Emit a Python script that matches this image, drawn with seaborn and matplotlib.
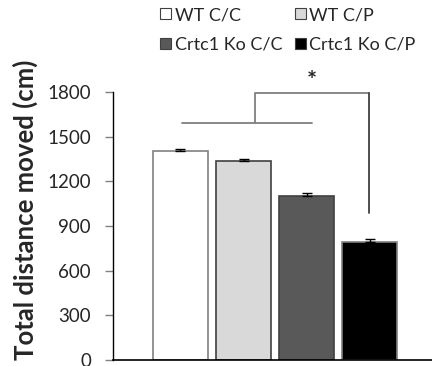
import matplotlib
matplotlib.use("Agg")
import matplotlib.pyplot as plt
import seaborn as sns
import pandas as pd
from matplotlib.patches import Patch

groups = ["WT C/C", "WT C/P", "Crtc1 Ko C/C", "Crtc1 Ko C/P"]
means = [1404, 1338, 1101, 792]
sems = [15, 12, 20, 20]
colors = ["#ffffff", "#d9d9d9", "#595959", "#000000"]
edges = ["#808080", "#404040", "#404040", "#808080"]
yticks = [0, 300, 600, 900, 1200, 1500, 1800]

sns.set_style("white")
plt.rcParams["font.family"] = ["Lato", "DejaVu Sans"]

df = pd.DataFrame({"group": groups, "value": means})

fig = plt.figure(figsize=(4.32, 3.66), dpi=100)
ax = fig.add_axes([113/432, 6/366, 1 - 113/432, (360-92)/366])

sns.barplot(data=df, x="group", y="value", hue="group", palette=colors,
            order=groups, hue_order=groups, width=0.873, legend=False, ax=ax,
            errorbar=None, saturation=1)
for p, ec in zip(ax.patches, edges):
    p.set_edgecolor(ec)
    p.set_linewidth(1.2)

xs = [p.get_x() + p.get_width()/2 for p in ax.patches]
ax.errorbar(xs, means, yerr=[[0]*4, sems], fmt="none", ecolor="black",
            elinewidth=1, capsize=3.5, capthick=1)

ax.set_ylim(0, 1800)
ax.set_xlim(-1.07, 3.99)
ax.set_yticks(yticks)
ax.set_yticklabels([str(t) for t in yticks], fontsize=13.5)
ax.set_xticks([])
ax.set_xlabel("")
ax.set_ylabel("Total distance moved (cm)", fontsize=18.5, fontweight="bold", va="center")
ax.yaxis.set_label_coords(-0.275, 0.56)
ax.tick_params(axis="y", direction="out", length=5.8, width=1, color="#808080", left=True, pad=10)
for s in ["top", "right"]:
    ax.spines[s].set_visible(False)
ax.spines["left"].set_color("black")
ax.spines["bottom"].set_color("black")
ax.spines["left"].set_linewidth(1)
ax.spines["bottom"].set_linewidth(1.2)

# significance brackets
lc = "#7f7f7f"
ax.plot([0.02, 2.09], [1594, 1594], color=lc, lw=1.3, clip_on=False)
ax.plot([1.19, 1.19, 2.99], [1594, 1795, 1795], color=lc, lw=1.3, clip_on=False)
ax.plot([2.99, 2.99], [1795, 987], color="#404040", lw=1.3, clip_on=False)
ax.text(2.09, 1870, "*", ha="center", va="center", fontsize=17, fontweight="bold", clip_on=False)

handles = [Patch(facecolor=c, edgecolor="#404040", linewidth=0.8) for c in colors]
order = [0, 2, 1, 3]
fig.legend([handles[i] for i in order], [groups[i] for i in order], ncol=2,
           loc="upper left", bbox_to_anchor=(144/432, 1.025),
           frameon=False, fontsize=13, handlelength=0.6, handleheight=0.6,
           handletextpad=0.2, columnspacing=0.7, labelspacing=0.75)

fig.savefig("out.png", dpi=100)
